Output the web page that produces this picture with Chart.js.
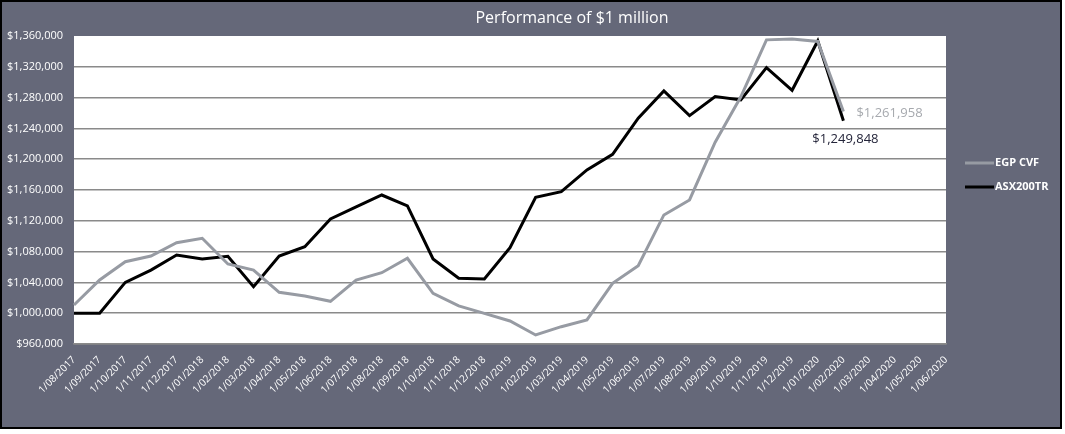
<!DOCTYPE html>
<html>
<head>
<script src="https://cdn.jsdelivr.net/npm/chart.js"></script>
<meta charset="utf-8">
<title>Performance of $1 million</title>
<style>
  body { margin: 0; background: #fff; }
  #box { position: absolute; left: 0; top: 0; width: 1058px; height: 425px; border: 2px solid #000; background: #656879; }
</style>
</head>
<body>
<div id="box">
  <canvas id="myChart"></canvas>
</div>

<script>
  const months = ['1/08/2017','1/09/2017','1/10/2017','1/11/2017','1/12/2017',
    '1/01/2018','1/02/2018','1/03/2018','1/04/2018','1/05/2018','1/06/2018','1/07/2018',
    '1/08/2018','1/09/2018','1/10/2018','1/11/2018','1/12/2018',
    '1/01/2019','1/02/2019','1/03/2019','1/04/2019','1/05/2019','1/06/2019','1/07/2019',
    '1/08/2019','1/09/2019','1/10/2019','1/11/2019','1/12/2019',
    '1/01/2020','1/02/2020','1/03/2020','1/04/2020','1/05/2020','1/06/2020'];

  const egpCvf = [1010700, 1043100, 1066900, 1074300, 1091600, 1097300, 1063900, 1056100,
    1027100, 1022400, 1015400, 1043000, 1052600, 1071300, 1025800, 1009400, 999800, 989900,
    971700, 982500, 991200, 1038800, 1061700, 1127600, 1147100, 1222000, 1281000, 1355000,
    1356000, 1353000, 1261958];

  const asx200tr = [1000000, 1000000, 1040000, 1056000, 1075600, 1070400, 1074000, 1034400,
    1074300, 1086400, 1122400, 1138000, 1153500, 1139300, 1070400, 1045300, 1044400, 1085100,
    1150500, 1157800, 1186000, 1206400, 1253200, 1288600, 1256600, 1281300, 1277000, 1319000,
    1289500, 1353500, 1249848];

  const yTicks = [960000, 1000000, 1040000, 1080000, 1120000, 1160000, 1200000, 1240000, 1280000, 1320000, 1360000];

  const FONT = "'Open Sans', sans-serif";
  const money = v => '$' + Number(v).toLocaleString('en-US');

  // white plot area, title, legend and end-of-line labels
  const decor = {
    id: 'decor',
    beforeDraw(chart) {
      const a = chart.chartArea, c = chart.ctx;
      c.save();
      c.fillStyle = '#fff';
      c.fillRect(a.left, a.top, a.right - a.left, a.bottom - a.top);
      c.fillStyle = '#fff';
      c.font = '16px ' + FONT;
      c.textAlign = 'center';
      c.textBaseline = 'middle';
      c.fillText('Performance of $1 million', 570, 16);
      c.restore();
    },
    afterDatasetsDraw(chart) {
      const c = chart.ctx;
      c.save();
      // legend
      chart.data.datasets.forEach((ds, i) => {
        const y = 161 + i * 24;
        c.strokeStyle = ds.borderColor;
        c.lineWidth = 3;
        c.beginPath();
        c.moveTo(963, y);
        c.lineTo(992, y);
        c.stroke();
        c.fillStyle = '#fff';
        c.font = 'bold 11px ' + FONT;
        c.textAlign = 'left';
        c.textBaseline = 'middle';
        c.fillText(ds.label, 993, y);
      });
      // last value labels
      c.font = '13px ' + FONT;
      c.textBaseline = 'middle';
      const m0 = chart.getDatasetMeta(0), m1 = chart.getDatasetMeta(1);
      const p0 = m0.data[egpCvf.length - 1], p1 = m1.data[asx200tr.length - 1];
      c.fillStyle = '#a6a9ae';
      c.textAlign = 'left';
      c.fillText(money(egpCvf[egpCvf.length - 1]), p0.x + 13, p0.y + 2);
      c.fillStyle = '#24253a';
      c.textAlign = 'center';
      c.fillText(money(asx200tr[asx200tr.length - 1]), p1.x + 2, p1.y + 18);
      c.restore();
    }
  };

  const ctx = document.getElementById('myChart');
  new Chart(ctx, {
    type: 'line',
    data: {
      labels: months,
      datasets: [{
        label: 'EGP CVF',
        data: egpCvf,
        borderColor: '#979ba3',
        borderWidth: 3,
        pointRadius: 0,
        tension: 0
      }, {
        label: 'ASX200TR',
        data: asx200tr,
        borderColor: '#000000',
        borderWidth: 3,
        pointRadius: 0,
        tension: 0
      }]
    },
    options: {
      responsive: true,
      maintainAspectRatio: false,
      animation: false,
      layout: { padding: { left: 0, top: 34, right: 114, bottom: 0 } },
      plugins: {
        legend: { display: false },
        title: { display: false },
        tooltip: { enabled: false }
      },
      scales: {
        x: {
          offset: false,
          afterFit: s => { s.height = 83; },
          grid: { display: false },
          border: { display: true, color: '#8a8a8a', width: 1.5 },
          ticks: {
            color: '#fff',
            font: { family: FONT, size: 10 },
            minRotation: 45,
            maxRotation: 45,
            autoSkip: false,
            padding: 2
          }
        },
        y: {
          min: yTicks[0],
          max: yTicks[yTicks.length - 1],
          afterFit: s => { s.width = 72; },
          afterBuildTicks: s => { s.ticks = yTicks.map(v => ({ value: v })); },
          border: { display: false },
          grid: {
            drawTicks: false,
            lineWidth: 1.5,
            color: c => (c.tick && c.tick.value === yTicks[yTicks.length - 1]) ? 'rgba(0,0,0,0)' : '#8a8a8a'
          },
          ticks: {
            color: '#fff',
            font: { family: FONT, size: 11 },
            padding: 11,
            callback: v => money(v)
          }
        }
      }
    },
    plugins: [decor]
  });
</script>

</body>
</html>
